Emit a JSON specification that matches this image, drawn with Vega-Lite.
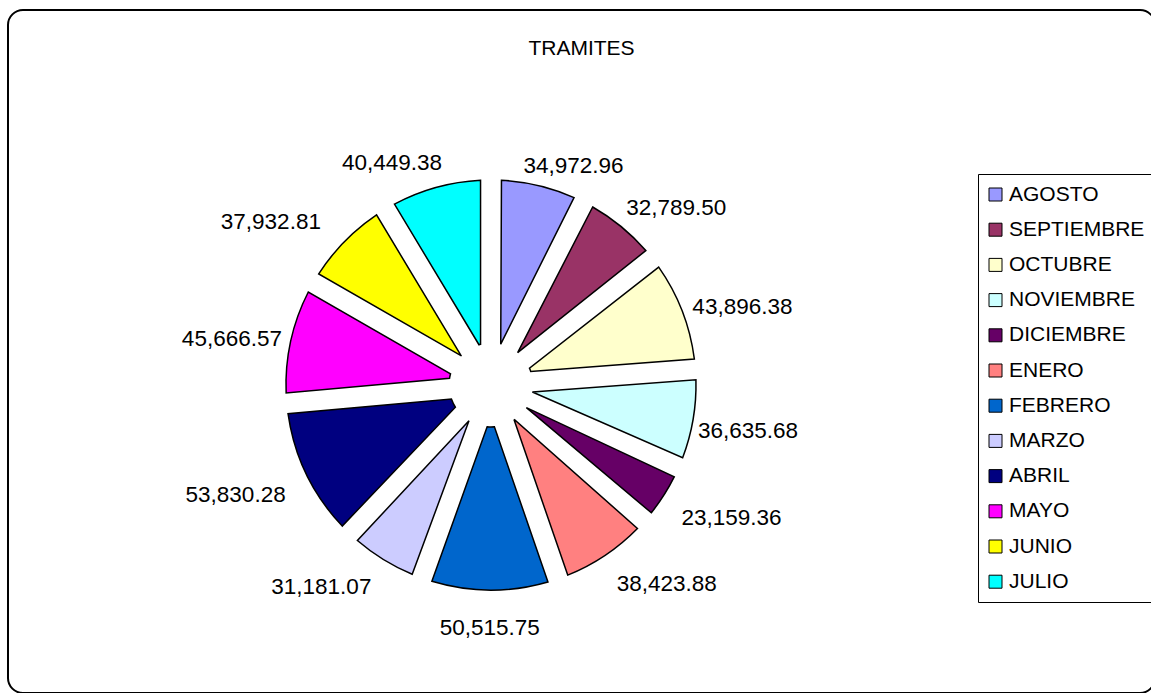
{
  "$schema": "https://vega.github.io/schema/vega-lite/v6.json",
  "autosize": {"type": "none"},
  "width": 1147,
  "height": 683,
  "padding": {"left": 8, "top": 10, "right": 0, "bottom": 0},
  "background": "white",
  "config": {
    "view": {"stroke": "black", "strokeWidth": 2, "cornerRadius": 15, "fill": "white"},
    "font": "Liberation Sans",
    "text": {"fontSize": 22.5, "font": "Liberation Sans", "color": "black"}
  },
  "title": {
    "text": "TRAMITES",
    "font": "Liberation Sans",
    "fontSize": 21,
    "fontWeight": "normal",
    "color": "black",
    "anchor": "middle",
    "frame": "group",
    "baseline": "alphabetic",
    "offset": -66
  },
  "data": {
    "values": [
      {"mes": "AGOSTO", "valor": 34972.96, "orden": 1},
      {"mes": "SEPTIEMBRE", "valor": 32789.50, "orden": 2},
      {"mes": "OCTUBRE", "valor": 43896.38, "orden": 3},
      {"mes": "NOVIEMBRE", "valor": 36635.68, "orden": 4},
      {"mes": "DICIEMBRE", "valor": 23159.36, "orden": 5},
      {"mes": "ENERO", "valor": 38423.88, "orden": 6},
      {"mes": "FEBRERO", "valor": 50515.75, "orden": 7},
      {"mes": "MARZO", "valor": 31181.07, "orden": 8},
      {"mes": "ABRIL", "valor": 53830.28, "orden": 9},
      {"mes": "MAYO", "valor": 45666.57, "orden": 10},
      {"mes": "JUNIO", "valor": 37932.81, "orden": 11},
      {"mes": "JULIO", "valor": 40449.38, "orden": 12}
    ]
  },
  "encoding": {
    "theta": {"field": "valor", "type": "quantitative", "stack": true},
    "order": {"field": "orden", "type": "quantitative"},
    "x": {"value": 483},
    "y": {"value": 375}
  },
  "layer": [
    {
      "mark": {"type": "arc", "outerRadius": 205, "innerRadius": 42, "padAngle": 0.1, "stroke": "black", "strokeWidth": 1.5},
      "encoding": {
        "color": {
          "field": "mes",
          "type": "nominal",
          "scale": {
            "domain": ["AGOSTO", "SEPTIEMBRE", "OCTUBRE", "NOVIEMBRE", "DICIEMBRE", "ENERO", "FEBRERO", "MARZO", "ABRIL", "MAYO", "JUNIO", "JULIO"],
            "range": ["#9999FF", "#993366", "#FFFFCC", "#CCFFFF", "#660066", "#FF8080", "#0066CC", "#CCCCFF", "#000080", "#FF00FF", "#FFFF00", "#00FFFF"]
          },
          "legend": {
            "title": null,
            "orient": "none",
            "legendX": 970,
            "legendY": 164,
            "strokeColor": "black",
            "fillColor": "white",
            "padding": 10,
            "symbolType": "square",
            "symbolSize": 169,
            "symbolOffset": -3,
            "symbolStrokeColor": "black",
            "symbolStrokeWidth": 1,
            "labelFont": "Liberation Sans",
            "labelFontSize": 21,
            "labelColor": "black",
            "labelOffset": 3,
            "labelLimit": 300,
            "rowPadding": 13.2
          }
        }
      }
    },
    {
      "mark": {"type": "text", "radius": 213, "align": "left", "baseline": "bottom", "dx": -17},
      "encoding": {
        "text": {"condition": {"test": "datum.mes == 'AGOSTO'", "field": "valor", "type": "quantitative", "format": ",.2f"}, "value": ""}
      }
    },
    {
      "mark": {"type": "text", "radius": 213, "align": "left", "baseline": "bottom"},
      "encoding": {
        "text": {"condition": {"test": "datum.mes == 'SEPTIEMBRE'", "field": "valor", "type": "quantitative", "format": ",.2f"}, "value": ""}
      }
    },
    {
      "mark": {"type": "text", "radius": 216, "align": "left", "baseline": "middle"},
      "encoding": {
        "text": {"condition": {"test": "datum.mes == 'OCTUBRE'", "field": "valor", "type": "quantitative", "format": ",.2f"}, "value": ""}
      }
    },
    {
      "mark": {"type": "text", "radius": 210, "align": "left", "baseline": "top"},
      "encoding": {
        "text": {"condition": {"test": "datum.mes == 'NOVIEMBRE'", "field": "valor", "type": "quantitative", "format": ",.2f"}, "value": ""}
      }
    },
    {
      "mark": {"type": "text", "radius": 226, "align": "left", "baseline": "top"},
      "encoding": {
        "text": {"condition": {"test": "indexof(['DICIEMBRE','ENERO'], datum.mes) >= 0", "field": "valor", "type": "quantitative", "format": ",.2f"}, "value": ""}
      }
    },
    {
      "mark": {"type": "text", "radius": 232, "align": "center", "baseline": "top"},
      "encoding": {
        "text": {"condition": {"test": "datum.mes == 'FEBRERO'", "field": "valor", "type": "quantitative", "format": ",.2f"}, "value": ""}
      }
    },
    {
      "mark": {"type": "text", "radius": 228, "align": "right", "baseline": "top", "dy": -3},
      "encoding": {
        "text": {"condition": {"test": "datum.mes == 'MARZO'", "field": "valor", "type": "quantitative", "format": ",.2f"}, "value": ""}
      }
    },
    {
      "mark": {"type": "text", "radius": 228, "align": "right", "baseline": "top"},
      "encoding": {
        "text": {"condition": {"test": "datum.mes == 'ABRIL'", "field": "valor", "type": "quantitative", "format": ",.2f"}, "value": ""}
      }
    },
    {
      "mark": {"type": "text", "radius": 214, "align": "right", "baseline": "middle"},
      "encoding": {
        "text": {"condition": {"test": "datum.mes == 'MAYO'", "field": "valor", "type": "quantitative", "format": ",.2f"}, "value": ""}
      }
    },
    {
      "mark": {"type": "text", "radius": 227, "align": "right", "baseline": "bottom", "dx": -8, "dy": 8},
      "encoding": {
        "text": {"condition": {"test": "datum.mes == 'JUNIO'", "field": "valor", "type": "quantitative", "format": ",.2f"}, "value": ""}
      }
    },
    {
      "mark": {"type": "text", "radius": 213, "align": "right", "baseline": "bottom", "dx": 8, "dy": -5},
      "encoding": {
        "text": {"condition": {"test": "datum.mes == 'JULIO'", "field": "valor", "type": "quantitative", "format": ",.2f"}, "value": ""}
      }
    }
  ]
}
